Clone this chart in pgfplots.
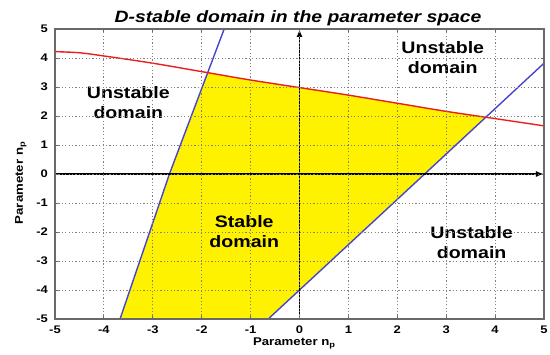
\documentclass[border=0pt]{standalone}
\usepackage{fontspec}
\setmainfont[FakeStretch=1.18]{Liberation Sans}
\usepackage{pgfplots}
\pgfplotsset{compat=1.18}
\usetikzlibrary{arrows.meta}

\definecolor{bndblue}{RGB}{70,70,205}
\definecolor{bndred}{RGB}{235,30,30}
\definecolor{framegray}{RGB}{105,105,105}

\newcommand{\regionfont}{\fontsize{8.3}{10}\selectfont\bfseries}

\begin{document}
\begin{tikzpicture}
\useasboundingbox (-27.5pt,-17.5pt) rectangle (247.5pt,159.5pt);
\begin{axis}[
  at={(0,0)}, anchor=south west,
  scale only axis, width=244.5pt, height=145pt,
  xmin=-5, xmax=5, ymin=-5, ymax=5,
  xtick={-5,-4,...,5}, ytick={-5,-4,...,5},
  tick pos=both, tick align=inside, major tick length=1.5pt,
  grid=major,
  major grid style={draw=gray, line width=0.4pt, dash pattern=on 0.6pt off 1.1pt},
  axis line style={draw=framegray, line width=0.6pt},
  every tick/.style={draw=framegray, line width=0.4pt},
  axis on top,
  /pgf/number format/assume math mode=true,
  tick label style={font=\fontsize{5.5}{6}\selectfont\bfseries},
  xlabel={Parameter n\textsubscript{p}},
  xlabel style={font=\fontsize{5.6}{6}\selectfont\bfseries,
    at={(axis description cs:0.49,-0.064)}, anchor=north, inner sep=0pt},
  ylabel={Parameter n\textsubscript{p}},
  ylabel style={font=\fontsize{5.6}{6}\selectfont\bfseries,
    at={(axis description cs:-0.07,0.47)}, anchor=center, inner sep=0pt},
  after end axis/.code={
    \node[font=\fontsize{8.2}{9}\selectfont\bfseries\itshape, anchor=base,
      inner sep=0pt] at ([yshift=3.15pt]rel axis cs:0.497,1)
      {D-stable domain in the parameter space};
  },
]
% stable region bounded by the three boundary curves
\addplot[fill=yellow, draw=none] coordinates {
  (-3.67,-5) (-2.66,0) (-1.88,3.50) (-1,3.24) (0,2.98) (1,2.72)
  (2,2.44) (3,2.16) (3.82,1.955) (-0.64,-5)
} -- cycle;

% boundary curves
\addplot[bndblue, line width=0.7pt] coordinates {(-3.67,-5) (-2.66,0) (-1.54,5)};
\addplot[bndblue, line width=0.7pt] coordinates {(-0.64,-5) (0,-4) (2.56,0) (5,3.82)};
\addplot[bndred, line width=0.7pt, smooth] coordinates {
  (-5,4.22) (-4.5,4.18) (-4,4.07) (-3,3.82) (-2,3.53) (-1,3.24)
  (0,2.98) (1,2.72) (2,2.44) (3,2.16) (4,1.91) (5,1.66)};

% coordinate axes through the origin
\addplot[black, line width=0.8pt, -{Latex[length=4pt,width=3pt]}] coordinates {(-5,0) (5,0)};
\addplot[black, line width=0.8pt, -{Latex[length=4pt,width=3pt]}] coordinates {(0,-5) (0,5)};

% region labels
\node[align=center, font=\regionfont] at (axis cs:-3.5,2.45) {Unstable\\domain};
\node[align=center, font=\regionfont] at (axis cs:2.93,4.0) {Unstable\\domain};
\node[align=center, font=\regionfont] at (axis cs:-1.13,-1.99) {Stable\\domain};
\node[align=center, font=\regionfont] at (axis cs:3.52,-2.38) {Unstable\\domain};
\end{axis}
\end{tikzpicture}
\end{document}
